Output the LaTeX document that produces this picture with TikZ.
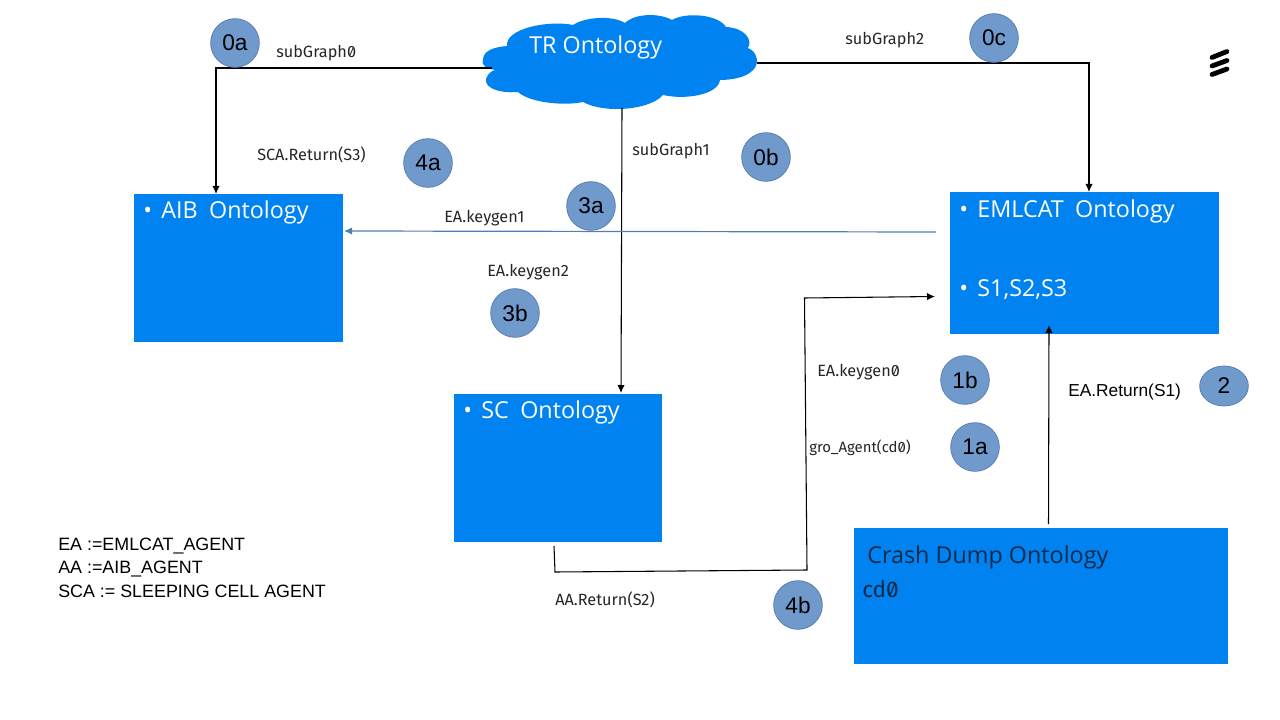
\documentclass[tikz,border=0pt]{standalone}
\usepackage{fontspec}
\setmainfont{Open Sans}
\newfontfamily\lblfont[Numbers=SlashedZero]{Fira Sans}
\newfontfamily\arialfont{Liberation Sans}
\usetikzlibrary{arrows.meta,shapes.geometric}
\definecolor{boxblue}{HTML}{0082F0}
\definecolor{badge}{HTML}{7099CC}
\definecolor{badgeline}{HTML}{5A80B4}
\definecolor{keyline}{HTML}{4F7FB5}
\definecolor{darktxt}{HTML}{0C2A4A}
\tikzset{
  x=0.75pt,y=-0.75pt,
  ontotxt/.style={text=white,anchor=west,inner sep=0pt,font=\fontsize{17.5}{20}\selectfont},
  badgec/.style={circle,fill=badge,draw=badgeline,line width=0.6pt,minimum size=36.5pt,inner sep=0pt,text=black,font=\arialfont\fontsize{17}{20}\selectfont},
  lbl/.style={anchor=west,inner sep=0pt,text=black!85,font=\lblfont\fontsize{12.2}{15}\selectfont},
  arl/.style={anchor=west,inner sep=0pt,text=black,font=\arialfont\fontsize{13.4}{16}\selectfont},
  conn/.style={draw=black,line width=0.8pt,-{Latex[length=6pt,width=5.5pt]}}
}
\begin{document}
\begin{tikzpicture}
\useasboundingbox (0,0) rectangle (1280,720);
% boxes
\fill[boxblue] (134,194) rectangle (343,342);
\fill[boxblue] (950,192) rectangle (1219,334);
\fill[boxblue] (454,394) rectangle (662,542);
\fill[boxblue] (854,528) rectangle (1228,664);
% cloud
\fill[boxblue] (483,59) .. controls (484,50) and (495,47) .. (507,46)
 .. controls (505,28) and (550,20) .. (573,25)
 .. controls (585,17) and (612,15) .. (625,23)
 .. controls (635,13) and (660,13) .. (672,20)
 .. controls (685,12) and (718,14) .. (726,27)
 .. controls (745,28) and (753,40) .. (748,48)
 .. controls (758,52) and (760,65) .. (752,71)
 .. controls (745,78) and (730,80) .. (720,80)
 .. controls (718,95) and (685,100) .. (663,95)
 .. controls (650,110) and (605,114) .. (583,102)
 .. controls (565,106) and (530,103) .. (518,92)
 .. controls (495,94) and (480,85) .. (488,75)
 .. controls (490,72) and (492,71) .. (495,70)
 .. controls (485,68) and (481,65) .. (483,59) -- cycle;
\node[ontotxt] (tr) at (529,47) {TR Ontology};
% box texts
\node[ontotxt] (aib) at (143,212) {•\hspace{7pt}AIB\hspace{4pt} Ontology};
\node[ontotxt] (eml) at (959,211) {•\hspace{7pt}EMLCAT\hspace{4pt} Ontology};
\node[ontotxt] (sss) at (959,290) {•\hspace{7pt}S1,S2,S3};
\node[ontotxt] (sc) at (463,412) {•\hspace{7pt}SC\hspace{4pt} Ontology};
\node[ontotxt,text=darktxt] (crash) at (867,557) {Crash Dump Ontology};
\node[anchor=west,inner sep=0pt,text=darktxt,font=\lblfont\fontsize{17}{20}\selectfont] (cdz) at (862,589) {cd0};
% logo
\draw[black,line width=3.6pt,line cap=round] (1212,57.5) -- (1227,51.5);
\draw[black,line width=3.6pt,line cap=round] (1212,66) -- (1227,60.5);
\draw[black,line width=3.6pt,line cap=round] (1212,74.5) -- (1227,69);
% connector ends
\coordinate (cL) at (492,68);\coordinate (cLk) at (216,68);\coordinate (aibT) at (216,194);
\coordinate (cB) at (622,108);\coordinate (scT) at (621,393);
\coordinate (cR) at (757,63);\coordinate (cRk) at (1089,63);\coordinate (emlT) at (1089,192);
\coordinate (emlL) at (936,232);\coordinate (aibR) at (344,231);
\coordinate (scB) at (554,546);\coordinate (k1) at (555,572);\coordinate (k2) at (807,570);\coordinate (k3) at (804.5,298);\coordinate (emlIn) at (935,296.5);
\coordinate (crT) at (1048.5,524);\coordinate (emlB) at (1049,325);
\draw[conn] (cL) -- (cLk) -- (aibT);
\draw[conn] (cB) -- (scT);
\draw[conn] (cR) -- (cRk) -- (emlT);
\draw[conn,draw=keyline,line width=0.9pt] (emlL) -- (aibR);
\draw[conn] (scB) -- (k1) -- (k2) -- (k3) -- (emlIn);
\draw[conn] (crT) -- (emlB);
% badges
\node[badgec] (b0a) at (235,43) {0a};
\node[badgec] (b0b) at (766,157) {0b};
\node[badgec] (b0c) at (994,38) {0c};
\node[badgec] (b4a) at (428,163) {4a};
\node[badgec] (b3a) at (591,206) {3a};
\node[badgec] (b3b) at (515,313) {3b};
\node[badgec] (b1b) at (965,380) {1b};
\node[badgec] (b1a) at (975,447) {1a};
\node[ellipse,fill=badge,draw=badgeline,line width=0.6pt,inner sep=0pt,minimum width=36.5pt,minimum height=30pt,text=black,font=\arialfont\fontsize{17}{20}\selectfont] (b2) at (1224,386) {2};
\node[badgec] (b4b) at (798,605) {4b};
% labels
\node[lbl] (l1) at (276,53) {subGraph0};
\node[lbl] (l2) at (845,40) {subGraph2};
\node[lbl] (l3) at (632,151) {subGraph1};
\node[lbl] (l4) at (257,155) {SCA.Return(S3)};
\node[lbl] (l5) at (444,218) {EA.keygen1};
\node[lbl] (l6) at (487,272) {EA.keygen2};
\node[lbl] (l7) at (817,372) {EA.keygen0};
\node[lbl,font=\lblfont\fontsize{11.2}{14}\selectfont] (l8) at (809,448) {gro\_Agent(cd0)};
\node[lbl] (l9) at (555,600) {AA.Return(S2)};
\node[arl,font=\arialfont\fontsize{13}{16}\selectfont] (l10) at (1068,392) {EA.Return(S1)};
\node[arl] (d1) at (58,546) {EA :=EMLCAT\_AGENT};
\node[arl] (d2) at (58,569) {AA :=AIB\_AGENT};
\node[arl] (d3) at (58,591) {SCA := SLEEPING CELL AGENT};
\end{tikzpicture}
\end{document}
